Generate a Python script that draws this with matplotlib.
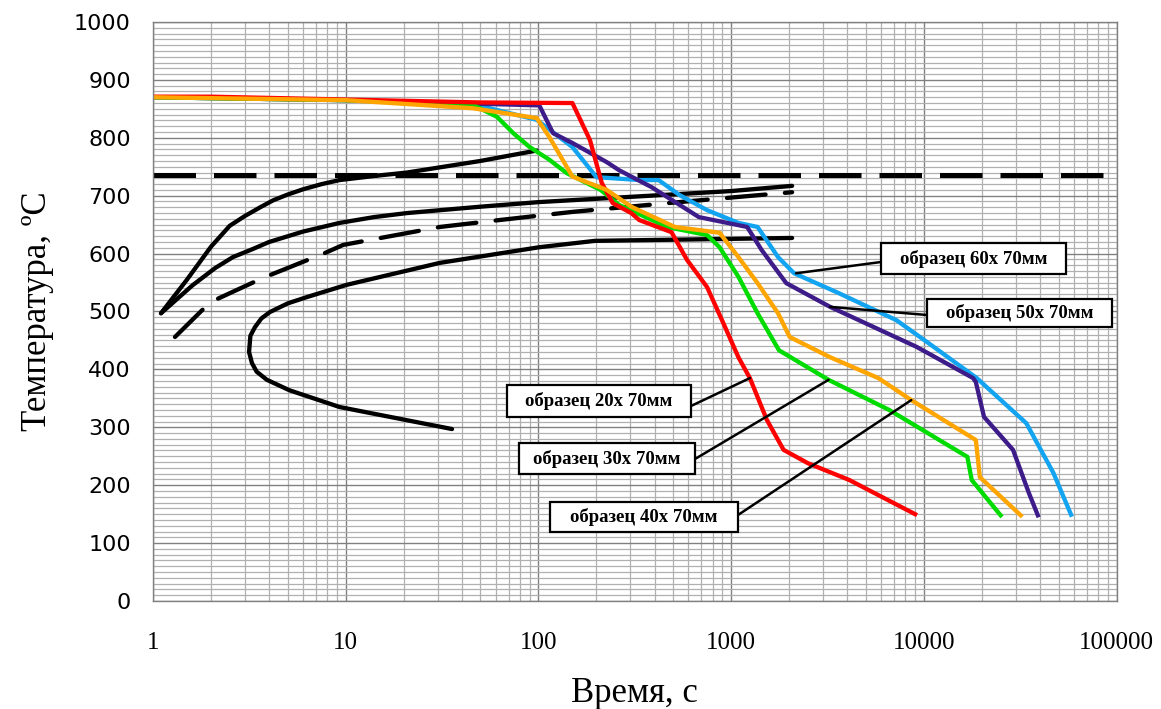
import numpy as np
import matplotlib.pyplot as plt
from matplotlib.patches import Rectangle
from matplotlib.ticker import FixedLocator, NullFormatter, FuncFormatter

# --- TTT diagram (black curves) ---
upper_x = [1.1, 1.5, 2.0, 2.5, 3.0, 3.6, 4.2, 5, 6, 7.5, 9.3, 14, 20.8, 50, 98]
upper_y = [497, 555, 612, 648, 665, 680, 692, 702, 711, 720, 727, 734, 740, 760, 778]

middle_x = [1.1, 1.6, 2.1, 2.6, 3.3, 4, 6, 9.3, 14, 20.8, 50, 101, 300, 1000, 2070]
middle_y = [497, 545, 575, 594, 608, 620, 638, 653, 663, 670, 681, 689, 698, 708, 717]

dashed_x = [1.3, 1.98, 3.72, 7.8, 9.7, 30.8, 63, 150, 500, 2070]
dashed_y = [456, 516, 558, 601, 615, 646, 658, 672, 688, 706]

nose_x = [35.6, 9.3, 5.1, 3.9, 3.45, 3.26, 3.15, 3.2, 3.38, 3.65, 4.04, 5, 6.3,
          10.1, 30.8, 101, 196, 2070]
nose_y = [297, 335, 364, 382, 396, 411, 430, 458, 473, 488, 499, 514, 525,
          546, 584, 611, 622, 627]

a1_x = [1, 85000]
a1_y = [736, 736]

# --- cooling curves of samples ---
red_x = [1, 2, 10, 50, 150, 185, 213, 243, 303, 333, 490, 590, 750, 910, 1090,
         1250, 1530, 1870, 2500, 4100, 9000]
red_y = [871, 871, 866, 861, 860, 796, 722, 687, 670, 658, 637, 589, 542, 480, 421,
         385, 313, 261, 238, 209, 150]

green_x = [1, 10, 45.7, 61, 74, 90, 114, 140, 210, 262, 465, 750, 870, 1090, 1370,
           1770, 3200, 6600, 16800, 17700, 25000]
green_y = [870, 865, 857, 836, 808, 784, 762, 739, 710, 684, 646, 632, 611, 560, 497,
           433, 382, 330, 249, 209, 148]

orange_x = [1, 10, 45.7, 98, 114, 150, 226, 303, 510, 870, 1090, 1370, 1750, 2010,
            3260, 5800, 8600, 18600, 19500, 31800]
orange_y = [870, 865, 851, 834, 801, 733, 710, 681, 646, 636, 594, 549, 497, 456,
            421, 385, 347, 278, 214, 148]

purple_x = [1, 10, 101, 119, 150, 226, 262, 385, 490, 680, 1210, 1440, 1930, 3260,
            9150, 18000, 18600, 20500, 29000, 35000, 39000]
purple_y = [870, 865, 856, 808, 791, 758, 744, 715, 693, 663, 646, 606, 549, 508,
            439, 385, 378, 318, 261, 187, 148]

blue_x = [1, 10, 50, 98, 150, 200, 335, 420, 540, 750, 1090, 1370, 1750, 2120, 3600,
          7200, 10500, 18800, 34000, 47000, 58000]
blue_y = [870, 865, 855, 831, 784, 732, 727, 727, 701, 675, 653, 646, 594, 566, 532,
          485, 446, 385, 307, 221, 149]

# labels: text, point on curve (data)
labels = ['образец 60х 70мм', 'образец 50х 70мм', 'образец 20х 70мм',
          'образец 30х 70мм', 'образец 40х 70мм']
label_pts = [(2170, 566), (3260, 508), (1250, 385), (3200, 382), (8600, 347)]
# boxes in pixels from the top-left: x0, x1, y0, y1, and where the leader starts
boxes = [(881, 1066, 243, 274), (927, 1112, 299, 327), (507, 691, 385, 417),
         (519, 695, 443, 474), (550, 738, 502, 532)]
leader_start = [(881, 262), (927, 315), (691, 406), (695, 459), (738, 515)]

W, H = 1161, 709
fig = plt.figure(figsize=(W / 100, H / 100), dpi=100)
ax = fig.add_axes([0.1318, 0.1523, 0.830, 0.8167])

ax.set_xscale('log')
ax.set_xlim(1, 100000)
ax.set_ylim(0, 1000)

# grid
ax.xaxis.set_major_locator(FixedLocator([1, 10, 100, 1000, 10000, 100000]))
ax.xaxis.set_minor_locator(FixedLocator([m * 10 ** d for d in range(5) for m in range(2, 10)]))
ax.xaxis.set_major_formatter(FuncFormatter(lambda v, p: '%d' % round(v)))
ax.xaxis.set_minor_formatter(NullFormatter())
ax.yaxis.set_major_locator(FixedLocator(np.arange(0, 1001, 100)))
ax.yaxis.set_minor_locator(FixedLocator(np.arange(0, 1001, 10)))
ax.grid(which='minor', color='#b0b0b0', linewidth=0.9)
ax.grid(which='major', color='#808080', linewidth=1.0)
ax.set_axisbelow(True)
for s in ax.spines.values():
    s.set_color('#808080')
    s.set_linewidth(1.0)

ax.tick_params(which='both', length=0)
ax.tick_params(axis='y', pad=16, labelsize=16)
ax.tick_params(axis='x', pad=22, labelsize=18)
for t in ax.get_xticklabels():
    t.set_family('Liberation Serif')
for t in ax.get_yticklabels():
    t.set_family('DejaVu Sans')

lw = 3.1
ax.plot(a1_x, a1_y, color='black', lw=3.6, dashes=(8.5, 3.6), solid_capstyle='butt')
ax.plot(upper_x, upper_y, color='black', lw=lw, solid_capstyle='round')
ax.plot(middle_x, middle_y, color='black', lw=lw, solid_capstyle='round')
ax.plot(dashed_x, dashed_y, color='black', lw=lw, dashes=(9, 4.5), dash_capstyle='round')
ax.plot(nose_x, nose_y, color='black', lw=lw, solid_capstyle='round')

ax.plot(blue_x, blue_y, color='#12a4f0', lw=lw)
ax.plot(purple_x, purple_y, color='#3d1c8a', lw=lw)
ax.plot(green_x, green_y, color='#00dc00', lw=lw)
ax.plot(red_x, red_y, color='#ff0000', lw=lw)
ax.plot(orange_x, orange_y, color='#ffa500', lw=lw)

for txt, pt, box, st in zip(labels, label_pts, boxes, leader_start):
    x0, x1, y0, y1 = box
    ax.annotate('', xy=pt, xycoords='data', xytext=(st[0], H - st[1]),
                textcoords='figure pixels',
                arrowprops=dict(arrowstyle='-', color='black', lw=1.8,
                                shrinkA=0, shrinkB=0))
    fig.add_artist(Rectangle((x0 / W, 1 - y1 / H), (x1 - x0) / W, (y1 - y0) / H,
                             transform=fig.transFigure, fc='white', ec='black', lw=1.6))
    fig.text((x0 + x1) / 2 / W, 1 - (y0 + y1) / 2 / H, txt, ha='center', va='center',
             fontsize=13.5, fontweight='bold', family='Liberation Serif')

ax.set_xlabel('Время, с', family='Liberation Serif', fontsize=25, labelpad=17)
ax.set_ylabel('Температура, ºC', family='Liberation Serif', fontsize=25, labelpad=14)

fig.savefig('out.png', dpi=100)
